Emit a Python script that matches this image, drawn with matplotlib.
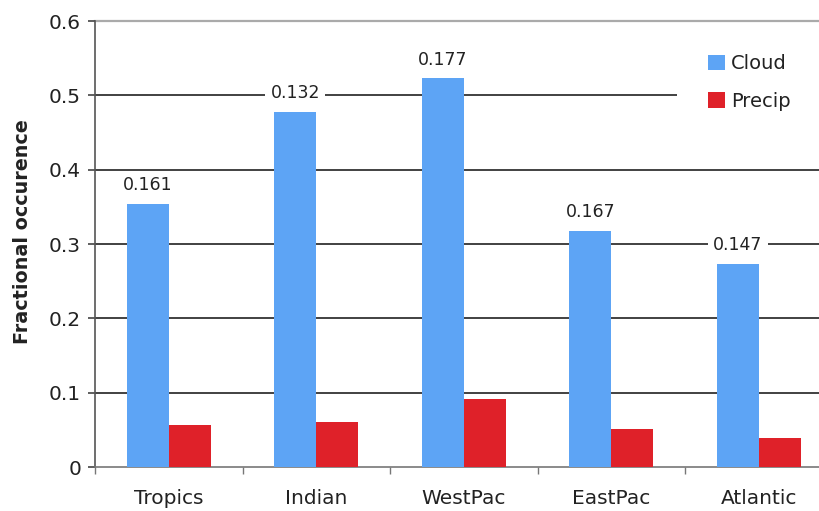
import matplotlib
matplotlib.use("Agg")
import matplotlib.pyplot as plt
from matplotlib.patches import Rectangle
import numpy as np

regions = ["Tropics", "Indian", "WestPac", "EastPac", "Atlantic"]
cloud = [0.354, 0.478, 0.523, 0.318, 0.273]
precip = [0.0565, 0.061, 0.0915, 0.051, 0.0386]
ratio_labels = ["0.161", "0.132", "0.177", "0.167", "0.147"]
y_ticks = [0, 0.1, 0.2, 0.3, 0.4, 0.5, 0.6]
y_tick_labels = ["0", "0.1", "0.2", "0.3", "0.4", "0.5", "0.6"]

blue = "#5da4f5"
red = "#df2129"
ink = "#222222"

plt.rcParams["font.family"] = ["DejaVu Sans"]

fig = plt.figure(figsize=(8.19, 5.11), dpi=100)
fig.patch.set_facecolor("white")
# plot area runs past the right edge of the figure
ax = fig.add_axes([0.116, 0.0861, 0.9005, 0.8728])

x = np.arange(len(regions)) + 0.5
w = 0.285
ax.bar(x - w / 2, cloud, width=w, color=blue, zorder=3, label="Cloud")
ax.bar(x + w / 2, precip, width=w, color=red, zorder=3, label="Precip")

ax.set_xlim(0, len(regions))
ax.set_ylim(0, 0.6)

# horizontal gridlines
for yv in y_ticks[1:-1]:
    ax.axhline(yv, color="#333333", lw=1.3, zorder=1)
ax.axhline(0.6, color="#aaaaaa", lw=1.6, zorder=1, clip_on=False)

for s in ["top", "right"]:
    ax.spines[s].set_visible(False)
ax.spines["left"].set_color("#555555")
ax.spines["left"].set_linewidth(1.2)
ax.spines["bottom"].set_color("#777777")
ax.spines["bottom"].set_linewidth(1.2)

ax.set_yticks(y_ticks)
ax.set_yticklabels(y_tick_labels, fontsize=14.5, color=ink)
ax.tick_params(axis="y", length=5, width=1.2, color="#444444", pad=5)

# category labels between boundary ticks
ax.set_xticks(np.arange(len(regions) + 1))
ax.set_xticklabels([])
ax.tick_params(axis="x", length=5, width=1, color="#777777", direction="out")
for xi, name in zip(x, regions):
    ax.text(xi, -0.029, name, ha="center", va="top", fontsize=14.5, color=ink,
            transform=ax.transData)

ax.set_ylabel("Fractional occurence", fontsize=13.8, fontweight="bold", color=ink)
ax.yaxis.set_label_coords(-0.085, 0.527)

for xi, h, lab in zip(x - w / 2, cloud, ratio_labels):
    ax.annotate(lab, (xi, h), xytext=(0, 7), textcoords="offset points",
                ha="center", va="bottom", fontsize=12.5, color=ink, zorder=4,
                bbox=dict(boxstyle="square,pad=0.3", fc="white", ec="none"))

# white panel behind the legend, reaching the right edge
ax.add_patch(Rectangle((0.827, 0.74), 0.2, 0.19, transform=fig.transFigure,
                       fc="white", ec="none", zorder=2, clip_on=False))

leg = ax.legend(loc="upper left", bbox_to_anchor=(0.853, 0.913),
                bbox_transform=fig.transFigure, frameon=False, fontsize=14,
                handlelength=0.85, handleheight=0.85, handletextpad=0.3,
                labelspacing=0.95, borderpad=0.0)
for t in leg.get_texts():
    t.set_color(ink)
leg.set_zorder(5)

fig.savefig("out.png", dpi=100, facecolor="white")
